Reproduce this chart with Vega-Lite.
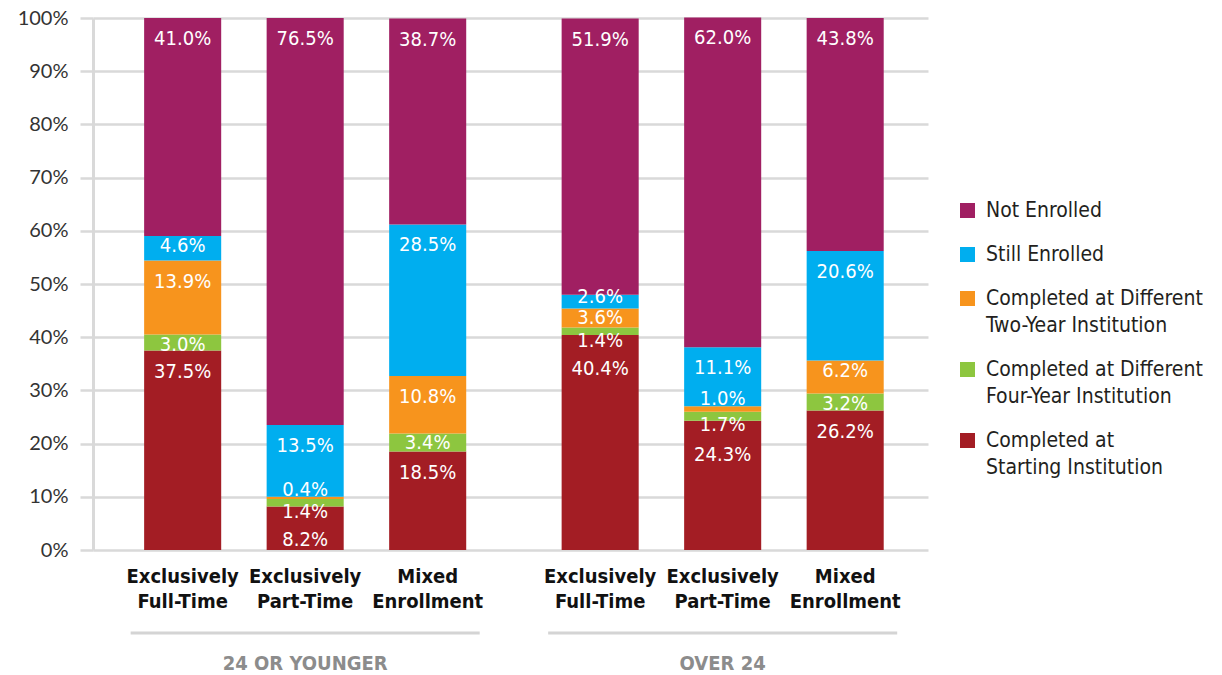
{
  "$schema": "https://vega.github.io/schema/vega-lite/v6.json",
  "width": 835,
  "height": 532,
  "autosize": {"type": "none"},
  "padding": {"left": 93, "top": 18, "right": 294, "bottom": 125},
  "background": "white",
  "config": {"view": {"stroke": null}, "style": {"guide-label": {"lineHeight": 27}}},
  "data": {
    "values": [
      {"age": "24 OR YOUNGER", "enroll": "Exclusively Full-Time", "cat": "Completed at Starting Institution", "v": 0.375},
      {"age": "24 OR YOUNGER", "enroll": "Exclusively Full-Time", "cat": "Completed at Different Four-Year Institution", "v": 0.030},
      {"age": "24 OR YOUNGER", "enroll": "Exclusively Full-Time", "cat": "Completed at Different Two-Year Institution", "v": 0.139},
      {"age": "24 OR YOUNGER", "enroll": "Exclusively Full-Time", "cat": "Still Enrolled", "v": 0.046},
      {"age": "24 OR YOUNGER", "enroll": "Exclusively Full-Time", "cat": "Not Enrolled", "v": 0.410},
      {"age": "24 OR YOUNGER", "enroll": "Exclusively Part-Time", "cat": "Completed at Starting Institution", "v": 0.082},
      {"age": "24 OR YOUNGER", "enroll": "Exclusively Part-Time", "cat": "Completed at Different Four-Year Institution", "v": 0.014},
      {"age": "24 OR YOUNGER", "enroll": "Exclusively Part-Time", "cat": "Completed at Different Two-Year Institution", "v": 0.004},
      {"age": "24 OR YOUNGER", "enroll": "Exclusively Part-Time", "cat": "Still Enrolled", "v": 0.135},
      {"age": "24 OR YOUNGER", "enroll": "Exclusively Part-Time", "cat": "Not Enrolled", "v": 0.765},
      {"age": "24 OR YOUNGER", "enroll": "Mixed Enrollment", "cat": "Completed at Starting Institution", "v": 0.185},
      {"age": "24 OR YOUNGER", "enroll": "Mixed Enrollment", "cat": "Completed at Different Four-Year Institution", "v": 0.034},
      {"age": "24 OR YOUNGER", "enroll": "Mixed Enrollment", "cat": "Completed at Different Two-Year Institution", "v": 0.108},
      {"age": "24 OR YOUNGER", "enroll": "Mixed Enrollment", "cat": "Still Enrolled", "v": 0.285},
      {"age": "24 OR YOUNGER", "enroll": "Mixed Enrollment", "cat": "Not Enrolled", "v": 0.387},
      {"age": "OVER 24", "enroll": "Exclusively Full-Time", "cat": "Completed at Starting Institution", "v": 0.404},
      {"age": "OVER 24", "enroll": "Exclusively Full-Time", "cat": "Completed at Different Four-Year Institution", "v": 0.014},
      {"age": "OVER 24", "enroll": "Exclusively Full-Time", "cat": "Completed at Different Two-Year Institution", "v": 0.036},
      {"age": "OVER 24", "enroll": "Exclusively Full-Time", "cat": "Still Enrolled", "v": 0.026},
      {"age": "OVER 24", "enroll": "Exclusively Full-Time", "cat": "Not Enrolled", "v": 0.519},
      {"age": "OVER 24", "enroll": "Exclusively Part-Time", "cat": "Completed at Starting Institution", "v": 0.243},
      {"age": "OVER 24", "enroll": "Exclusively Part-Time", "cat": "Completed at Different Four-Year Institution", "v": 0.017},
      {"age": "OVER 24", "enroll": "Exclusively Part-Time", "cat": "Completed at Different Two-Year Institution", "v": 0.010},
      {"age": "OVER 24", "enroll": "Exclusively Part-Time", "cat": "Still Enrolled", "v": 0.111},
      {"age": "OVER 24", "enroll": "Exclusively Part-Time", "cat": "Not Enrolled", "v": 0.620},
      {"age": "OVER 24", "enroll": "Mixed Enrollment", "cat": "Completed at Starting Institution", "v": 0.262},
      {"age": "OVER 24", "enroll": "Mixed Enrollment", "cat": "Completed at Different Four-Year Institution", "v": 0.032},
      {"age": "OVER 24", "enroll": "Mixed Enrollment", "cat": "Completed at Different Two-Year Institution", "v": 0.062},
      {"age": "OVER 24", "enroll": "Mixed Enrollment", "cat": "Still Enrolled", "v": 0.206},
      {"age": "OVER 24", "enroll": "Mixed Enrollment", "cat": "Not Enrolled", "v": 0.438}
    ]
  },
  "transform": [
    {"stack": "v", "groupby": ["age", "enroll"], "as": ["v0", "v1"]}
  ],
  "layer": [
    {
      "mark": {"type": "bar"},
      "encoding": {
        "x": {
          "field": "age", "type": "nominal", "sort": ["24 OR YOUNGER", "OVER 24"],
          "scale": {"paddingInner": 0.164, "paddingOuter": 0.082, "align": 0.55},
          "axis": {"title": null, "orient": "bottom", "domain": false, "ticks": false, "grid": false, "labelAngle": 0,
                   "labelPadding": 103, "labelFont": "'Liberation Sans Narrow', 'DejaVu Sans Condensed', 'Roboto Condensed', Roboto, sans-serif",
                   "labelFontWeight": "bold", "labelFontSize": 20, "labelColor": "#8c8c8c"}
        },
        "xOffset": {
          "field": "enroll", "type": "nominal", "sort": ["Exclusively Full-Time", "Exclusively Part-Time", "Mixed Enrollment"],
          "scale": {"paddingInner": 0.371, "paddingOuter": 0.11}
        },
        "y": {
          "field": "v0", "type": "quantitative", "scale": {"domain": [0, 1], "nice": false},
          "axis": {"title": null, "values": [0, 0.1, 0.2, 0.3, 0.4, 0.5, 0.6, 0.7, 0.8, 0.9, 1], "format": ".0%",
                   "grid": true, "gridColor": "#d9d9d9", "gridWidth": 2.5,
                   "domain": true, "domainColor": "#d9d9d9", "domainWidth": 3,
                   "ticks": true, "tickSize": 13, "tickColor": "#d9d9d9", "tickWidth": 2.5,
                   "labelFont": "Lato", "labelFontSize": 20, "labelColor": "#333333", "labelPadding": 12}
        },
        "y2": {"field": "v1"},
        "color": {
          "field": "cat", "type": "nominal",
          "scale": {
            "domain": ["Not Enrolled", "Still Enrolled", "Completed at Different Two-Year Institution", "Completed at Different Four-Year Institution", "Completed at Starting Institution"],
            "range": ["#A01F62", "#00AEEF", "#F7941D", "#8DC63F", "#A31D24"]
          },
          "legend": {
            "title": null, "orient": "none", "legendX": 864, "legendY": 182, "padding": 0,
            "symbolType": "square", "symbolSize": 225, "symbolStrokeWidth": 0, "symbolOpacity": 1,
            "labelFont": "'Liberation Sans Narrow', 'DejaVu Sans Condensed', 'Roboto Condensed', Roboto, sans-serif",
            "labelFontSize": 21, "labelColor": "#231f20", "labelOffset": 8, "labelLimit": 400, "rowPadding": 22,
            "labelExpr": "split(replace(datum.label, regexp(' (Two|Four|Starting)'), '|$1'), '|')"
          }
        }
      }
    },
    {
      "transform": [{"filter": "datum.v >= 0.1 && !(datum.cat == 'Completed at Starting Institution' && datum.enroll != 'Mixed Enrollment' && !(datum.age == '24 OR YOUNGER' && datum.enroll == 'Exclusively Full-Time'))"}],
      "mark": {"type": "text", "color": "white", "font": "'Liberation Sans Narrow', 'DejaVu Sans Condensed', 'Roboto Condensed', Roboto, sans-serif", "fontSize": 20, "baseline": "middle", "dy": 21},
      "encoding": {
        "x": {"field": "age", "type": "nominal", "sort": ["24 OR YOUNGER", "OVER 24"]},
        "xOffset": {"field": "enroll", "type": "nominal", "sort": ["Exclusively Full-Time", "Exclusively Part-Time", "Mixed Enrollment"]},
        "y": {"field": "v1", "type": "quantitative", "title": null},
        "text": {"field": "v", "type": "quantitative", "format": ".1%"}
      }
    },
    {
      "transform": [{"filter": "datum.cat == 'Completed at Starting Institution' && datum.enroll != 'Mixed Enrollment' && !(datum.age == '24 OR YOUNGER' && datum.enroll == 'Exclusively Full-Time')"}],
      "mark": {"type": "text", "color": "white", "font": "'Liberation Sans Narrow', 'DejaVu Sans Condensed', 'Roboto Condensed', Roboto, sans-serif", "fontSize": 20, "baseline": "middle", "dy": 34},
      "encoding": {
        "x": {"field": "age", "type": "nominal", "sort": ["24 OR YOUNGER", "OVER 24"]},
        "xOffset": {"field": "enroll", "type": "nominal", "sort": ["Exclusively Full-Time", "Exclusively Part-Time", "Mixed Enrollment"]},
        "y": {"field": "v1", "type": "quantitative", "title": null},
        "text": {"field": "v", "type": "quantitative", "format": ".1%"}
      }
    },
    {
      "transform": [{"filter": "datum.v >= 0.03 && datum.v < 0.08"}],
      "mark": {"type": "text", "color": "white", "font": "'Liberation Sans Narrow', 'DejaVu Sans Condensed', 'Roboto Condensed', Roboto, sans-serif", "fontSize": 20, "baseline": "middle", "dy": 10},
      "encoding": {
        "x": {"field": "age", "type": "nominal", "sort": ["24 OR YOUNGER", "OVER 24"]},
        "xOffset": {"field": "enroll", "type": "nominal", "sort": ["Exclusively Full-Time", "Exclusively Part-Time", "Mixed Enrollment"]},
        "y": {"field": "v1", "type": "quantitative", "title": null},
        "text": {"field": "v", "type": "quantitative", "format": ".1%"}
      }
    },
    {
      "transform": [{"filter": "datum.v >= 0.025 && datum.v < 0.03"}],
      "mark": {"type": "text", "color": "white", "font": "'Liberation Sans Narrow', 'DejaVu Sans Condensed', 'Roboto Condensed', Roboto, sans-serif", "fontSize": 20, "baseline": "middle", "dy": 2},
      "encoding": {
        "x": {"field": "age", "type": "nominal", "sort": ["24 OR YOUNGER", "OVER 24"]},
        "xOffset": {"field": "enroll", "type": "nominal", "sort": ["Exclusively Full-Time", "Exclusively Part-Time", "Mixed Enrollment"]},
        "y": {"field": "v1", "type": "quantitative", "title": null},
        "text": {"field": "v", "type": "quantitative", "format": ".1%"}
      }
    },
    {
      "transform": [{"filter": "datum.v < 0.025 && datum.cat == 'Completed at Different Two-Year Institution'"}],
      "mark": {"type": "text", "color": "white", "font": "'Liberation Sans Narrow', 'DejaVu Sans Condensed', 'Roboto Condensed', Roboto, sans-serif", "fontSize": 20, "baseline": "middle", "dy": -7},
      "encoding": {
        "x": {"field": "age", "type": "nominal", "sort": ["24 OR YOUNGER", "OVER 24"]},
        "xOffset": {"field": "enroll", "type": "nominal", "sort": ["Exclusively Full-Time", "Exclusively Part-Time", "Mixed Enrollment"]},
        "y": {"field": "v1", "type": "quantitative", "title": null},
        "text": {"field": "v", "type": "quantitative", "format": ".1%"}
      }
    },
    {
      "transform": [{"filter": "datum.v < 0.025 && datum.cat == 'Completed at Different Four-Year Institution'"}],
      "mark": {"type": "text", "color": "white", "font": "'Liberation Sans Narrow', 'DejaVu Sans Condensed', 'Roboto Condensed', Roboto, sans-serif", "fontSize": 20, "baseline": "middle", "dy": 13},
      "encoding": {
        "x": {"field": "age", "type": "nominal", "sort": ["24 OR YOUNGER", "OVER 24"]},
        "xOffset": {"field": "enroll", "type": "nominal", "sort": ["Exclusively Full-Time", "Exclusively Part-Time", "Mixed Enrollment"]},
        "y": {"field": "v1", "type": "quantitative", "title": null},
        "text": {"field": "v", "type": "quantitative", "format": ".1%"}
      }
    },
    {
      "transform": [{"filter": "datum.cat == 'Completed at Starting Institution'"}],
      "mark": {"type": "text", "color": "#111111", "font": "'Liberation Sans Narrow', 'DejaVu Sans Condensed', 'Roboto Condensed', Roboto, sans-serif", "fontWeight": "bold", "fontSize": 20, "baseline": "top", "dy": 17, "lineBreak": " ", "lineHeight": 25},
      "encoding": {
        "x": {"field": "age", "type": "nominal", "sort": ["24 OR YOUNGER", "OVER 24"]},
        "xOffset": {"field": "enroll", "type": "nominal", "sort": ["Exclusively Full-Time", "Exclusively Part-Time", "Mixed Enrollment"]},
        "y": {"field": "v0", "type": "quantitative", "title": null},
        "text": {"field": "enroll", "type": "nominal"}
      }
    },
    {
      "transform": [{"filter": "datum.cat == 'Not Enrolled' && datum.enroll == 'Mixed Enrollment'"}],
      "mark": {"type": "rule", "color": "#d4d4d4", "strokeWidth": 3},
      "encoding": {
        "x": {"field": "age", "type": "nominal", "sort": ["24 OR YOUNGER", "OVER 24"], "bandPosition": 0},
        "x2": {"field": "age", "bandPosition": 1},
        "y": {"datum": -0.156}
      }
    }
  ]
}
